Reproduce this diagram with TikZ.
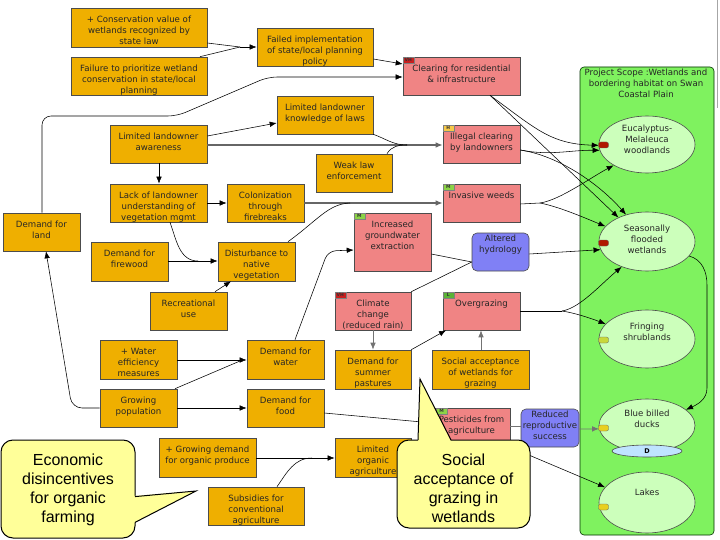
\documentclass[tikz,border=0pt]{standalone}
\usepackage{fontspec}
\setmainfont{DejaVu Sans}
\newfontfamily\calloutfont{Liberation Sans}
\usetikzlibrary{fit,calc,arrows.meta,shapes.geometric}
\definecolor{orng}{HTML}{EFAF00}
\definecolor{redb}{HTML}{F08484}
\definecolor{blub}{HTML}{8080F5}
\definecolor{grn}{HTML}{7FF25F}
\definecolor{ellg}{HTML}{CCFFBB}
\definecolor{lblu}{HTML}{BFE4FF}
\definecolor{cally}{HTML}{FFFF99}
\definecolor{tvh}{HTML}{C81E1E}
\definecolor{th}{HTML}{F7C948}
\definecolor{tm}{HTML}{8BD346}
\definecolor{tl}{HTML}{5BB336}
\definecolor{mred}{HTML}{B01800}
\definecolor{myel}{HTML}{E8D020}
\definecolor{mylg}{HTML}{C8D83A}
\newcommand\boxfont{\fontsize{8.6}{11}\selectfont}
\newcommand\tagfont{\fontsize{4.5}{5}\selectfont\bfseries}
\newcommand\mkbox[8]{%
  \node[#2, fit={(#3,#4)(#5,#6)}] (#1) {};%
  \node[txt] at ($(#1.north)+(0,#7)$) {#8};%
}
\newcommand\mktag[3]{%
  \node[tagbox, fill=#2, anchor=north west] at (#1.north west) {#3};%
}
\tikzset{
  obox/.style={draw=black!70, fill=orng, line width=0.6pt, inner sep=0pt},
  rbox/.style={draw=black!70, fill=redb, line width=0.6pt, inner sep=0pt},
  bbox/.style={draw=black!70, fill=blub, line width=0.6pt, inner sep=0pt, rounded corners=5pt},
  txt/.style={anchor=north, inner sep=0pt, align=center, font=\boxfont, text=black!85},
  ctxt/.style={anchor=north, inner sep=0pt, align=center, font=\calloutfont\fontsize{16}{19}\selectfont, text=black},
  tagbox/.style={draw=black!50, line width=0.3pt, inner sep=0pt, minimum width=11pt, minimum height=6pt, font=\tagfont, text=black!80},
  ell/.style={ellipse, draw=black!70, fill=ellg, line width=0.6pt, inner sep=0pt},
  emk/.style={draw=black!60, line width=0.3pt, rounded corners=2pt, minimum width=10pt, minimum height=6pt, inner sep=0pt},
  conn/.style={draw=black, line width=0.55pt},
  gconn/.style={draw=black!55, line width=0.7pt},
  hvy/.style={draw=black!60, line width=1.2pt},
  tip/.style={-{Latex[length=7pt,width=5.5pt]}},
  panel/.style={draw=black!55!green!40!black, fill=grn, line width=0.6pt, rounded corners=4pt, inner sep=0pt},
  callout/.style={draw=black, fill=cally, line width=1pt, rounded corners=12pt, inner sep=0pt},
}
\begin{document}
\begin{tikzpicture}[x=1pt,y=-1pt]
\useasboundingbox (0,0) rectangle (720,540);
\fill[white] (0,0) rectangle (720,540);
\draw[gray!70, line width=1pt] (717,0) -- (717,108);

% scope panel
\node[panel, fit={(580,67)(714,535)}] (scope) {};
\node[txt] at (646,68.5) {Project Scope :Wetlands and\\bordering habitat on Swan\\Coastal Plain};

% ellipses
\node[ell, minimum width=96pt, minimum height=57pt] (euc) at (647,144.5) {};
\node[ell, minimum width=96pt, minimum height=59pt] (seasonal) at (647,241.5) {};
\node[ell, minimum width=96pt, minimum height=58pt] (fringing) at (647,339) {};
\node[ell, minimum width=96pt, minimum height=53pt] (ducks) at (647,425.5) {};
\node[ell, minimum width=96pt, minimum height=61pt] (lakes) at (647,502.5) {};

% coordinates for junctions
\coordinate (j1) at (240,47);
\coordinate (j2) at (407,145);
\coordinate (j3) at (198,261);
\coordinate (j4) at (350,203);
\coordinate (j5) at (240,361);
\coordinate (j7) at (562,311);
\coordinate (j8) at (540,203);
\coordinate (j11) at (312,458);

\mkbox{cons}{obox}{71}{8}{207}{47}{8}{+ Conservation value of\\wetlands recognized by\\state law}
\mkbox{fail}{obox}{71}{57}{207}{95}{8}{Failure to prioritize wetland\\conservation in state/local\\planning}
\mkbox{failimpl}{obox}{257}{28}{373}{66}{8}{Failed implementation\\of state/local planning\\policy}
\mkbox{clearing}{rbox}{403}{57}{520}{95}{8}{Clearing for residential\\\& infrastructure}
\mkbox{limknow}{obox}{277}{96}{373}{134}{8}{Limited landowner\\knowledge of laws}
\mkbox{limaware}{obox}{110}{125}{207}{163}{8}{Limited landowner\\awareness}
\mkbox{illegal}{rbox}{443}{125}{520}{163}{8}{Illegal clearing\\by landowners}
\mkbox{weak}{obox}{316}{154}{392}{192}{8}{Weak law\\enforcement}
\mkbox{lackund}{obox}{110}{184}{207}{222}{8}{Lack of landowner\\understanding of\\vegetation mgmt}
\mkbox{colon}{obox}{227}{184}{304}{222}{8}{Colonization\\through\\firebreaks}
\mkbox{invasive}{rbox}{443}{184}{520}{222}{8}{Invasive weeds}
\mkbox{demland}{obox}{3}{213}{80}{251}{8}{Demand for\\land}
\mkbox{ground}{rbox}{354}{213}{431}{271}{8}{Increased\\groundwater\\extraction}
\mkbox{altered}{bbox}{472}{233}{529}{271}{2}{Altered\\hydrology}
\mkbox{firewood}{obox}{91}{242}{168}{281}{8}{Demand for\\firewood}
\mkbox{disturb}{obox}{218}{242}{295}{281}{8}{Disturbance to\\native\\vegetation}
\mkbox{recre}{obox}{150}{292}{227}{330}{8}{Recreational\\use}
\mkbox{climate}{rbox}{335}{292}{411}{330}{8}{Climate\\change\\(reduced rain)}
\mkbox{overgraz}{rbox}{443}{292}{520}{330}{8}{Overgrazing}
\mkbox{water}{obox}{100}{340}{177}{379}{8}{+ Water\\efficiency\\measures}
\mkbox{demwater}{obox}{247}{340}{324}{379}{8}{Demand for\\water}
\mkbox{summer}{obox}{335}{350}{411}{389}{8}{Demand for\\summer\\pastures}
\mkbox{social}{obox}{432}{350}{529}{389}{8}{Social acceptance\\of wetlands for\\grazing}
\mkbox{growpop}{obox}{100}{389}{177}{427}{8}{Growing\\population}
\mkbox{demfood}{obox}{247}{389}{324}{427}{8}{Demand for\\food}
\mkbox{pest}{rbox}{433}{408}{510}{440}{8}{Pesticides from\\agriculture}
\mkbox{reduced}{bbox}{521}{409}{579}{447}{2}{Reduced\\reproductive\\success}
\mkbox{growdem}{obox}{159}{438}{256}{477}{8}{+ Growing demand\\for organic produce}
\mkbox{limorg}{obox}{335}{438}{411}{477}{8}{Limited\\organic\\agriculture}
\mkbox{subsid}{obox}{208}{487}{304}{525}{8}{Subsidies for\\conventional\\agriculture}

% tags
\mktag{clearing}{tvh}{VH}
\mktag{illegal}{th}{H}
\mktag{invasive}{tm}{M}
\mktag{ground}{tm}{M}
\mktag{climate}{tvh}{VH}
\mktag{overgraz}{tl}{L}
\node[tagbox, fill=tm, anchor=north west] at (436,408) {M};

% connectors
\draw[conn] (cons.east |- 0,43) -- (j1);
\draw[conn] (fail.north -| 200,0) -- (j1);
\draw[conn,tip] (j1) -- (failimpl.west |- j1);
\draw[conn,tip] (failimpl.east |- 0,59) -- (clearing.west |- 0,64);
\draw[conn,tip,rounded corners=9pt] (demland.north -| 42,0) -- (42,116) -- (177,116) -- (268,77) -- (clearing.west |- 0,77);
\draw[conn,tip] (limaware.east |- 0,136) -- (limknow.west |- 0,123);
\draw[hvy,tip] (limaware.east |- 0,145) -- (illegal.west |- 0,145);
\draw[conn] (limknow.south east) to[out=-20,in=180] (j2);
\draw[conn] (weak.north -| 387,0) to[out=60,in=180] (j2);
\draw[conn,tip] (limaware.south -| 159,0) -- (lackund.north -| 159,0);
\draw[conn,tip] (lackund.east |- 0,203) -- (colon.west |- 0,203);
\draw[conn] (lackund.south -| 170,0) to[out=-70,in=180] (j3);
\draw[conn,tip] (firewood.east |- 0,261) -- (disturb.west |- 0,261);
\draw[conn,tip] (recre.north -| 215,0) -- (disturb.south -| 231,0);
\draw[hvy,tip] (colon.east |- 0,203) -- (invasive.west |- 0,203);
\draw[conn] (disturb.north -| 288,0) .. controls (318,220) and (328,204) .. (j4);
\draw[conn,tip,rounded corners=8pt] (demwater.north -| 295,0) -- (328,251) -- (ground.west |- 0,250);
\draw[conn,tip] (water.east |- 0,360) -- (demwater.west |- 0,360);
\draw[conn] (growpop.north -| 175,0) -- (j5);
\draw[conn,tip] (growpop.east |- 0,408) -- (demfood.west |- 0,408);
\draw[conn,tip,rounded corners=10pt] (growpop.west |- 0,408) -- (72,408) -- (demland.south -| 46,0);
\draw[conn,tip] (demfood.east |- 0,413) -- (pest.west |- 0,423);
\draw[gconn,tip] (climate.south) -- (summer.north);
\draw[conn] (climate.north east) -- (altered.west |- 0,262);
\draw[conn] (ground.east |- 0,254) -- (altered.west |- 0,262);
\draw[conn,tip] (summer.north east) -- (overgraz.south -| 446,0);
\draw[gconn,tip] (social.north -| 481,0) -- (overgraz.south -| 481,0);
\draw[conn] (overgraz.east |- 0,311) -- (j7);
\draw[conn,tip] (j7) .. controls (580,308) and (600,285) .. (seasonal.225);
\draw[conn,tip] (j7) .. controls (575,313) and (590,318) .. (fringing.160);
\draw[conn,tip] (altered.east |- 0,254) -- (seasonal.190);
\draw[conn] (invasive.east |- 0,204) -- (j8);
\draw[conn,tip] (j8) .. controls (560,200) and (590,178) .. (euc.212);
\draw[conn,tip] (j8) .. controls (560,207) and (585,218) .. (seasonal.160);
\draw[conn,tip] (clearing.south -| 490,0) .. controls (535,128) and (550,144) .. (euc.181);
\draw[conn,tip] (clearing.south -| 490,0) -- (seasonal.140);
\draw[conn,tip] (illegal.east |- 0,150) .. controls (550,156) and (570,150) .. (euc.187);
\draw[conn,tip] (illegal.east |- 0,150) .. controls (560,156) and (600,185) .. (seasonal.128);
\draw[gconn] (pest.east |- 0,426) -- (reduced.west |- 0,426);
\draw[gconn,tip] (reduced.east |- 0,429) -- (ducks.184);
\draw[conn,tip] (seasonal.-19) to[out=-15,in=90] (707,285) -- (707,388) to[out=-90,in=25] (ducks.22);
\draw[conn,tip] (pest.south -| 494,0) -- (lakes.160);
\draw[conn,tip] (growdem.east |- 0,458) -- (limorg.west |- 0,458);
\draw[conn] (subsid.north -| 277,0) to[out=55,in=180] (j11);

% ellipse texts
\node[txt] at (647,124.5) {Eucalyptus-\\Melaleuca\\woodlands};
\node[txt] at (647,224.5) {Seasonally\\flooded\\wetlands};
\node[txt] at (647,322.5) {Fringing\\shrublands};
\node[txt] at (647,409.5) {Blue billed\\ducks};
\node[ell, fill=lblu, minimum width=70pt, minimum height=12pt] (dd) at (647,451) {};
\node[font=\fontsize{6.5}{7}\selectfont\bfseries, inner sep=0pt] at (dd) {D};
\node[txt] at (647,488.5) {Lakes};

% markers
\node[emk, fill=mred] (m1) at (603.5,145) {};
\node[emk, fill=mred] (m2) at (603.5,243) {};
\node[emk, fill=mylg] (m3) at (603.5,340) {};
\node[emk, fill=myel] (m4) at (603.5,428) {};
\node[emk, fill=myel] (m5) at (603.5,507) {};

% callouts
\node[callout, fit={(1,440)(135,538)}] (econ) {};
\fill[cally] (133.5,496) -- (196,491) -- (133.5,523) -- cycle;
\draw[black, line width=1pt, line join=miter] (135,496.6) -- (196,491) -- (135,522.4);
\node[ctxt] at (68,453.5) {Economic\\disincentives\\for organic\\farming};

\node[callout, fit={(397,440)(530,528)}] (soc) {};
\fill[cally] (418,441.5) -- (420,379) -- (451,441.5) -- cycle;
\draw[black, line width=1pt, line join=miter] (418,440) -- (420,379) -- (451,440);
\node[ctxt] at (463.5,453.5) {Social\\acceptance of\\grazing in\\wetlands};
\end{tikzpicture}
\end{document}
